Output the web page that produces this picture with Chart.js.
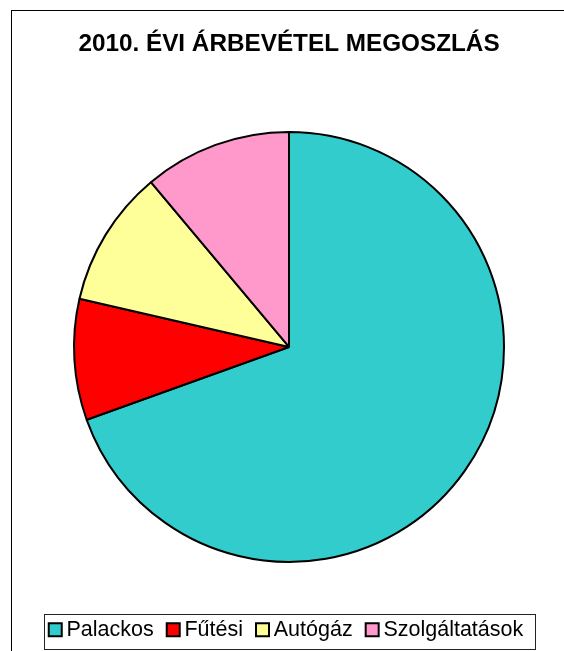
<!DOCTYPE html>
<html>
<head>
<meta charset="utf-8">
<script src="https://cdn.jsdelivr.net/npm/chart.js@4/dist/chart.umd.min.js"></script>
<style>
  body { margin: 0; background: #fff; }
  canvas { display: block; }
</style>
</head>
<body>
<canvas id="myChart" width="564" height="651"></canvas>
<script>
const categories = ["Palackos", "Fűtési", "Autógáz", "Szolgáltatások"];
const revenueShare = [69.5, 9.1, 10.3, 11.1];
const sliceColors = ["#33CCCC", "#FF0000", "#FFFF99", "#FF99CC"];
const chartTitle = "2010. ÉVI ÁRBEVÉTEL MEGOSZLÁS";

// outer frame of the chart area + box around the legend
const frames = {
  id: "frames",
  beforeDraw(chart) {
    const ctx = chart.ctx;
    ctx.save();
    ctx.fillStyle = "#fff";
    ctx.fillRect(0, 0, chart.width, chart.height);
    ctx.strokeStyle = "#000";
    ctx.lineWidth = 1;
    ctx.strokeRect(11.5, 10.5, chart.width + 20, chart.height + 20);
    ctx.restore();
  },
  afterDraw(chart) {
    const boxes = chart.legend.legendHitBoxes;
    if (!boxes || !boxes.length) return;
    const first = boxes[0];
    const last = boxes[boxes.length - 1];
    // the legend squares hang half their size left of the hitbox
    const left = Math.round(first.left - 11) + 0.5;
    const right = Math.round(last.left + last.width + 12) + 0.5;
    const top = Math.round(first.top - 5.5) + 0.5;
    const bottom = Math.round(first.top + 29.5) + 0.5;
    const ctx = chart.ctx;
    ctx.save();
    ctx.strokeStyle = "#222";
    ctx.lineWidth = 1;
    ctx.strokeRect(left, top, right - left, bottom - top);
    ctx.restore();
  }
};

const ctx = document.getElementById("myChart").getContext("2d");
const myChart = new Chart(ctx, {
  type: "pie",
  data: {
    labels: categories,
    datasets: [
      {
        data: revenueShare,
        backgroundColor: sliceColors,
        borderColor: "#000",
        borderWidth: 2,
        radius: 215,
      },
    ],
  },
  options: {
    responsive: false,
    animation: false,
    layout: { padding: { left: 14, right: 0, top: 0, bottom: 0.5 } },
    plugins: {
      title: {
        display: true,
        text: chartTitle,
        color: "#000",
        font: { family: "'Liberation Sans', Arial, sans-serif", size: 24.3, weight: "bold" },
        padding: { top: 29.6, bottom: 35.2 },
      },
      legend: {
        position: "bottom",
        labels: {
          color: "#000",
          font: { family: "'Liberation Sans', Arial, sans-serif", size: 21.5 },
          // square markers sit tight against their text
          usePointStyle: true,
          pointStyle: "rect",
          boxWidth: 1,
          boxHeight: 13,
          padding: 19,
        },
      },
      tooltip: { enabled: false },
    },
  },
  plugins: [frames],
});
</script>
</body>
</html>
